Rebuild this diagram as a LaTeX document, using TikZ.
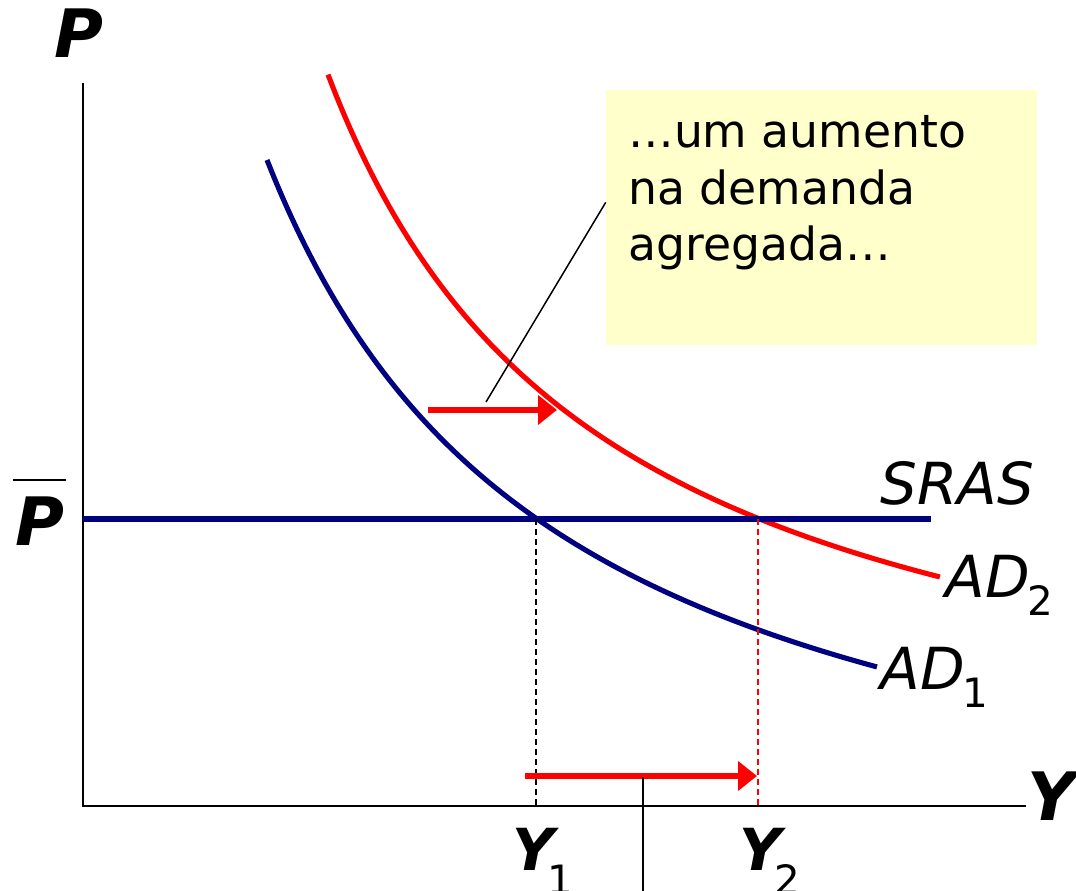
\documentclass[tikz,border=0pt]{standalone}
\usepackage{fontspec}
\setmainfont{DejaVu Sans}
\usetikzlibrary{arrows.meta}
\definecolor{adblue}{RGB}{0,0,128}
\definecolor{notefill}{RGB}{255,255,204}
\newcommand{\lowidx}[3]{\kern#1\raisebox{-#2}{\upshape\mdseries\fontsize{23}{23}\selectfont #3}}
\tikzset{
  axis/.style={line width=1.1pt},
  curve/.style={line width=2.9pt},
  guide/.style={line width=1.1pt,dash pattern=on 3.4pt off 2.3pt},
  shiftarrow/.style={red,line width=3.4pt,-{Triangle[length=10.8pt,width=16.4pt]}},
  callout/.style={line width=0.85pt},
  axislabel/.style={font=\fontsize{38}{38}\selectfont\bfseries\itshape,inner sep=0pt},
  curvelabel/.style={font=\fontsize{33}{33}\selectfont\itshape,inner sep=0pt,anchor=base west}
}
\begin{document}
\begin{tikzpicture}[x=0.02cm,y=-0.02cm]
  \useasboundingbox (0,0) rectangle (1076,891);
  \node[fill=notefill,inner sep=0pt,minimum width=8.62cm,minimum height=5.1cm] (note) at (821.5,217.5) {};
  \node[anchor=north west,inner sep=0pt,align=left,font=\fontsize{26}{32.3}\selectfont] (notetext) at (628,115) {…um aumento\\na demanda\\agregada…};
  \coordinate (O) at (83,806);
  \coordinate (ptop) at (83,83);
  \coordinate (yend) at (1026,806);
  \draw[axis] (ptop) -- (O) -- (yend);
  \node[axislabel] (plabel) at (79,33) {P};
  \node[axislabel] (ylabel) at (1052,796) {Y};
  \node[axislabel] (pbar) at (40,521) {P};
  \draw[line width=1.7pt] (13,480) -- (66,480);
  \draw[curve,red] plot[domain=3.28:9.40,samples=80,smooth] ({100*\x},{805.2-2030.97/(\x-0.5)});
  \draw[curve,adblue] plot[domain=2.67:8.77,samples=80,smooth] ({100*\x},{913.8-2238.9/(\x+0.3)});
  \coordinate (sras0) at (83,519);
  \coordinate (sras1) at (931,519);
  \draw[curve,adblue] (sras0) -- (sras1);
  \coordinate (e1) at (536,519);
  \coordinate (e2) at (758,519);
  \coordinate (y1) at (536,806);
  \coordinate (y2) at (758,806);
  \draw[guide] (e1) -- (y1);
  \draw[guide,red] (e2) -- (y2);
  \node[curvelabel] (sras) at (880,505) {SRAS};
  \node[curvelabel] (ad2) at (945,598) {AD\lowidx{-0.04em}{0.3em}{2}};
  \node[curvelabel] (ad1) at (880,690) {AD\lowidx{-0.04em}{0.3em}{1}};
  \node[curvelabel,font=\fontsize{33}{33}\selectfont\bfseries\itshape] (y1label) at (512,870) {Y\lowidx{-0.12em}{0.42em}{1}};
  \node[curvelabel,font=\fontsize{33}{33}\selectfont\bfseries\itshape] (y2label) at (739,870) {Y\lowidx{-0.12em}{0.42em}{2}};
  \coordinate (a1) at (428,410);
  \coordinate (b1) at (557,410);
  \coordinate (a2) at (525,776);
  \coordinate (b2) at (757,776);
  \draw[shiftarrow] (a1) -- (b1);
  \draw[shiftarrow] (a2) -- (b2);
  \coordinate (m1) at (486,402);
  \coordinate (m2) at (643,777);
  \coordinate (m3) at (643,891);
  \draw[callout] (m1) -- (note.176);
  \draw[callout] (m2) -- (m3);
\end{tikzpicture}
\end{document}
